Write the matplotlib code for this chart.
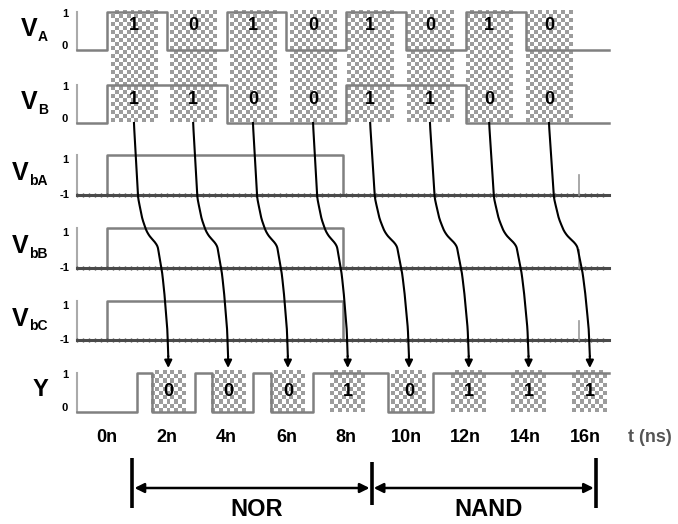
import numpy as np
import matplotlib.pyplot as plt
from matplotlib.colors import ListedColormap

plt.rcParams['font.family'] = ['Liberation Sans', 'DejaVu Sans']
plt.rcParams['font.weight'] = 'bold'

# waveforms (time in ns, levels)
va_t = [-1, 0, 2, 4, 6, 8, 10, 12, 14, 16.8]
va_v = [0, 1, 0, 1, 0, 1, 0, 1, 0, 0]
vb_t = [-1, 0, 4, 8, 12, 16.8]
vb_v = [0, 1, 0, 1, 0, 0]
vbias_t = [-1, 0, 7.9, 16.8]
vbias_v = [-1, 1, -1, -1]
spike_t = 15.8
spike_v = [0.0, -0.1, 0.0]          # VbA, VbB, VbC glitch heights
y_t = [-1, 1.0, 1.5, 2.94, 3.5, 4.88, 5.5, 6.89, 9.4, 10.9, 16.8]
y_v = [0, 1, 0, 1, 0, 1, 0, 1, 0, 1, 1]

# input slots and output readings
col_start = [0.13, 2.11, 4.11, 6.12, 8.03, 10.03, 12.01, 14.01]
col_width = 1.54
va_bits = [1, 0, 1, 0, 1, 0, 1, 0]
vb_bits = [1, 1, 0, 0, 1, 1, 0, 0]
y_center = [2.05, 4.05, 6.05, 8.05, 10.1, 12.1, 14.1, 16.15]
y_width = 1.17
y_bits = [0, 0, 0, 1, 0, 1, 1, 1]

xticks = [0, 2, 4, 6, 8, 10, 12, 14, 16]
xtick_labels = ['0n', '2n', '4n', '6n', '8n', '10n', '12n', '14n', '16n']
bracket_t = [0.85, 8.85, 16.35]
bracket_labels = ['NOR', 'NAND']

# layout: x in ns, y in pixel-like units (top = 0)
X0_PX, PX_NS = 107, 29.9
def tx(px):
    return (px - X0_PX) / PX_NS

# row: (low px, high px, vmin, vmax)
rows = {
    'VA': (50, 12, 0, 1),
    'VB': (123, 85, 0, 1),
    'VbA': (195, 155, -1, 1),
    'VbB': (268, 228, -1, 1),
    'VbC': (340, 301, -1, 1),
    'Y': (412, 373, 0, 1),
}

def ym(row, v):
    lo, hi, vmin, vmax = rows[row]
    return lo + (np.asarray(v, float) - vmin) / (vmax - vmin) * (hi - lo)

fig = plt.figure(figsize=(6.78, 5.24), dpi=100)
ax = fig.add_axes([0, 0, 1, 1])

checker = ListedColormap(['#ffffff', '#9c9c9c'])
def checker_box(t0, t1, ytop, ybot):
    nx = max(1, int(round((t1 - t0) * PX_NS / 4)))
    ny = max(1, int(round((ybot - ytop) / 4)))
    pat = np.indices((ny, nx)).sum(axis=0) % 2
    ax.imshow(pat, cmap=checker, extent=(t0, t1, ybot, ytop),
              interpolation='nearest', aspect='auto', zorder=1)

# checkered slots for the inputs
for t0, a, b in zip(col_start, va_bits, vb_bits):
    checker_box(t0, t0 + col_width, 10, 122)
    ax.text(t0 + col_width / 2, 25, str(a), ha='center', va='center',
            fontsize=13, zorder=5)
    ax.text(t0 + col_width / 2, 100, str(b), ha='center', va='center',
            fontsize=13, zorder=5)

# checkered slots for the output
for c, bit in zip(y_center, y_bits):
    checker_box(c - y_width / 2, c + y_width / 2, 370, 412)
    ax.text(c, 392, str(bit), ha='center', va='center', fontsize=13, zorder=5)

# left mini axes
for r in rows:
    lo, hi, vmin, vmax = rows[r]
    ax.plot([tx(77), tx(77)], [ym(r, vmin), ym(r, vmax)], color='#aaaaaa',
            lw=1.5, zorder=2)

tr = dict(drawstyle='steps-post', color='#808080', lw=1.8, zorder=3)
ax.plot(va_t, ym('VA', va_v), **tr)
ax.plot(vb_t, ym('VB', vb_v), **tr)
for r, sv in zip(['VbA', 'VbB', 'VbC'], spike_v):
    ax.plot(vbias_t, ym(r, vbias_v), **tr)
    ax.plot([vbias_t[0], vbias_t[-1]], ym(r, [-1, -1]), color='#4a4a4a',
            lw=2.2, zorder=3)
    ticks = np.arange(vbias_t[0], vbias_t[-1], 0.2)
    ax.plot(ticks, ym(r, np.full(len(ticks), -1)), ls='none', marker='|',
            ms=3, color='#4a4a4a', zorder=3)
    ax.plot([spike_t, spike_t], ym(r, [-1, sv]), color='#999999', lw=1.2,
            zorder=3)
ax.plot(y_t, ym('Y', y_v), **tr)

# row labels
labels = [('VA', 'V', 'A', 37), ('VB', 'V', 'B', 37), ('VbA', 'V', 'bA', 28),
          ('VbB', 'V', 'bB', 28), ('VbC', 'V', 'bC', 28)]
for r, main, sub, xr in labels:
    lo, hi, vmin, vmax = rows[r]
    yb = (lo + hi) / 2 + 5
    ax.text(tx(xr), yb, main, ha='right', va='baseline', fontsize=18)
    ax.text(tx(xr + 1), yb + 5, sub, ha='left', va='baseline', fontsize=10)
ax.text(tx(40), 390, 'Y', ha='center', va='center', fontsize=17)

# level tick labels
for r in rows:
    lo, hi, vmin, vmax = rows[r]
    lab_lo = '0' if vmin == 0 else '-1'
    ax.text(tx(65), hi + 2 if vmin == 0 else hi + 5, '1', ha='center',
            va='center', fontsize=8)
    ax.text(tx(65), lo - 4 if vmin == 0 else lo, lab_lo, ha='center',
            va='center', fontsize=8)

# curved arrows from input slots to output readings
s_pts = [0, 0.32, 0.41, 0.47, 0.50, 0.52, 0.64, 0.72, 0.88, 1.0]
f_pts = [0, 0.12, 0.24, 0.38, 0.53, 0.68, 0.82, 0.88, 0.97, 1.0]
y_start, y_tip = 123, 368
s = np.linspace(0, 1, 400)
f = np.interp(s, s_pts, f_pts)
k = np.ones(15) / 15
f = np.convolve(np.pad(f, 7, mode='edge'), k, mode='valid')
for t0, c in zip(col_start, y_center):
    xs = t0 + col_width / 2
    xx = xs + f * (c - xs)
    yy = y_start + s * (y_tip - 12 - y_start)
    ax.plot(xx, yy, color='black', lw=1.5, zorder=6)
    ax.annotate('', xy=(c, y_tip), xytext=(xx[-1], yy[-1]),
                arrowprops=dict(arrowstyle='-|>', color='black', lw=1.5,
                                mutation_scale=11, shrinkA=0, shrinkB=0),
                zorder=6)

# time axis labels
for t, lab in zip(xticks, xtick_labels):
    ax.text(t, 437, lab, ha='center', va='center', fontsize=13)
ax.text(tx(650), 437, 't (ns)', ha='center', va='center', fontsize=13,
        color='#555555')

# NOR / NAND brackets
for i, t in enumerate(bracket_t):
    top, bot = (462, 505) if i == 1 else (458, 508)
    ax.plot([t, t], [top, bot], color='black', lw=2.6, solid_capstyle='butt')
for (a, b), lab in zip(zip(bracket_t[:-1], bracket_t[1:]), bracket_labels):
    ax.annotate('', xy=(b, 488), xytext=(a, 488),
                arrowprops=dict(arrowstyle='<|-|>', color='black', lw=1.8,
                                mutation_scale=14, shrinkA=1.5, shrinkB=1.5))
    ax.text((a + b) / 2 + 0.15, 510, lab, ha='center', va='center',
            fontsize=17)

ax.set_xlim(tx(0), tx(678))
ax.set_ylim(524, 0)
ax.axis('off')
fig.savefig('out.png', dpi=100)
